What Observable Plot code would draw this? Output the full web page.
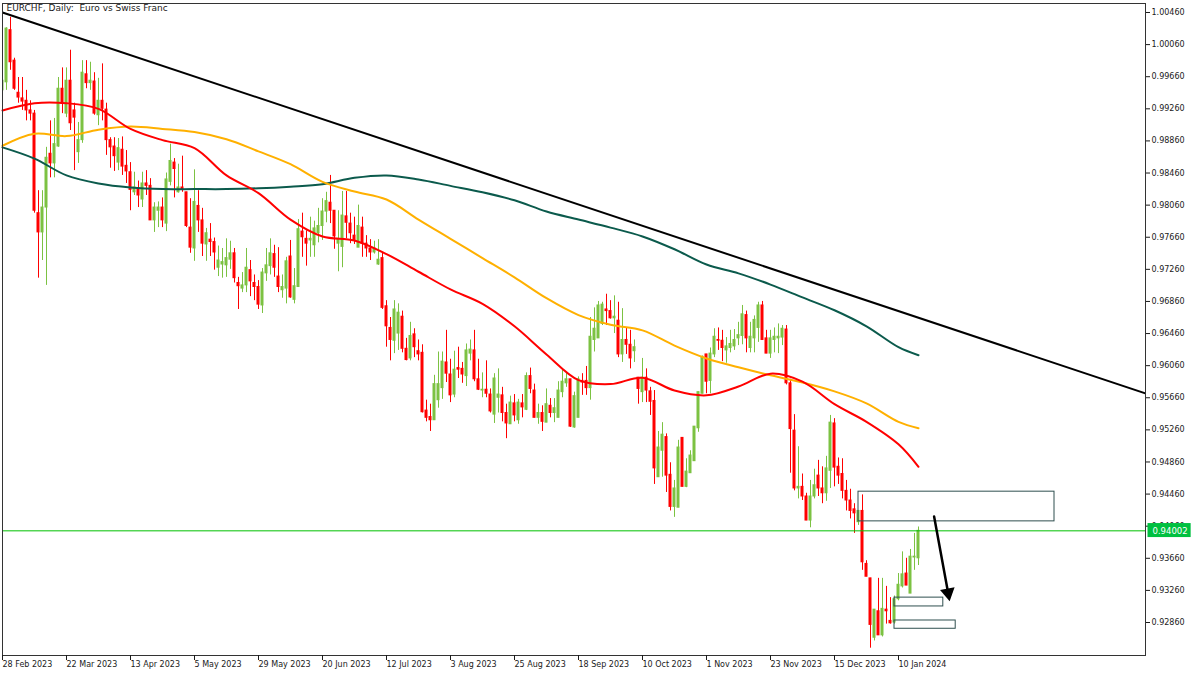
<!DOCTYPE html>
<html><head><meta charset="utf-8">
<script src="https://cdn.jsdelivr.net/npm/d3@7"></script>
<script src="https://cdn.jsdelivr.net/npm/@observablehq/plot@0.6"></script>
<style>html,body{margin:0;padding:0;background:#fff;} svg{display:block}</style>
</head><body><div id="chart"></div>
<script>
// ---- Data (EURCHF daily, bar index 0 = 28 Feb 2023) ----
const openP = [0.9949,0.9959,1.0024,0.9986,0.9946,0.9939,0.9936,0.9924,0.9920,0.9796,
0.9772,0.9803,0.9870,0.9858,0.9879,0.9951,0.9920,0.9961,0.9924,0.9872,
0.9887,0.9969,0.9958,0.9960,0.9918,0.9936,0.9925,0.9887,0.9879,0.9859,
0.9875,0.9855,0.9847,0.9822,0.9827,0.9813,0.9833,0.9830,0.9787,0.9799,
0.9803,0.9783,0.9835,0.9859,0.9822,0.9828,0.9822,0.9778,0.9752,0.9805,
0.9787,0.9757,0.9763,0.9760,0.9728,0.9732,0.9731,0.9738,0.9746,0.9709,
0.9702,0.9706,0.9725,0.9709,0.9704,0.9681,0.9721,0.9730,0.9745,0.9717,
0.9700,0.9702,0.9742,0.9688,0.9704,0.9773,0.9764,0.9762,0.9756,0.9771,
0.9780,0.9798,0.9809,0.9799,0.9758,0.9754,0.9792,0.9783,0.9768,0.9753,
0.9778,0.9758,0.9752,0.9747,0.9732,0.9740,0.9680,0.9653,0.9637,0.9646,
0.9667,0.9627,0.9615,0.9645,0.9624,0.9622,0.9550,0.9542,0.9538,0.9563,
0.9578,0.9610,0.9595,0.9570,0.9603,0.9602,0.9593,0.9621,0.9625,0.9589,
0.9575,0.9576,0.9570,0.9545,0.9566,0.9569,0.9547,0.9533,0.9559,0.9538,
0.9559,0.9551,0.9593,0.9575,0.9541,0.9547,0.9535,0.9556,0.9547,0.9541,
0.9573,0.9584,0.9589,0.9529,0.9541,0.9587,0.9587,0.9578,0.9638,0.9640,
0.9658,0.9676,0.9674,0.9665,0.9662,0.9620,0.9638,0.9632,0.9624,0.9591,
0.9573,0.9591,0.9574,0.9562,0.9467,0.9500,0.9517,0.9470,0.9430,0.9429,
0.9516,0.9455,0.9472,0.9487,0.9528,0.9571,0.9620,0.9587,0.9620,0.9638,
0.9637,0.9625,0.9628,0.9630,0.9640,0.9643,0.9669,0.9628,0.9640,0.9653,
0.9681,0.9640,0.9621,0.9638,0.9640,0.9641,0.9651,0.9584,0.9525,0.9453,
0.9455,0.9443,0.9413,0.9443,0.9469,0.9453,0.9447,0.9475,0.9534,0.9480,
0.9471,0.9450,0.9438,0.9427,0.9411,0.9425,0.9359,0.9341,0.9267,0.9300,
0.9270,0.9302,0.9288,0.9286,0.9315,0.9331,0.9347,0.9322,0.9367,0.9366];
const closeP = [0.9961,1.0026,0.9984,0.9951,0.9940,0.9935,0.9924,0.9920,0.9799,0.9772,
0.9803,0.9865,0.9858,0.9882,0.9951,0.9933,0.9961,0.9908,0.9915,0.9887,
0.9971,0.9958,0.9961,0.9920,0.9936,0.9926,0.9887,0.9878,0.9867,0.9877,
0.9854,0.9848,0.9825,0.9828,0.9818,0.9833,0.9830,0.9787,0.9803,0.9803,
0.9787,0.9838,0.9861,0.9851,0.9828,0.9825,0.9780,0.9753,0.9810,0.9787,
0.9758,0.9771,0.9760,0.9747,0.9737,0.9735,0.9740,0.9746,0.9715,0.9705,
0.9706,0.9728,0.9711,0.9704,0.9682,0.9722,0.9731,0.9746,0.9728,0.9704,
0.9704,0.9736,0.9691,0.9705,0.9776,0.9766,0.9758,0.9764,0.9777,0.9780,
0.9798,0.9811,0.9799,0.9767,0.9764,0.9793,0.9784,0.9771,0.9762,0.9780,
0.9758,0.9752,0.9747,0.9752,0.9738,0.9678,0.9655,0.9638,0.9676,0.9672,
0.9627,0.9613,0.9643,0.9629,0.9620,0.9548,0.9541,0.9538,0.9583,0.9583,
0.9611,0.9596,0.9569,0.9601,0.9601,0.9595,0.9625,0.9626,0.9589,0.9576,
0.9576,0.9571,0.9549,0.9590,0.9570,0.9547,0.9534,0.9560,0.9544,0.9560,
0.9554,0.9593,0.9577,0.9541,0.9547,0.9536,0.9558,0.9547,0.9553,0.9575,
0.9586,0.9589,0.9530,0.9568,0.9589,0.9585,0.9578,0.9642,0.9652,0.9681,
0.9682,0.9674,0.9665,0.9667,0.9620,0.9638,0.9632,0.9615,0.9629,0.9577,
0.9591,0.9575,0.9561,0.9478,0.9504,0.9520,0.9469,0.9430,0.9453,0.9504,
0.9455,0.9474,0.9494,0.9530,0.9573,0.9617,0.9586,0.9621,0.9642,0.9637,
0.9628,0.9630,0.9633,0.9638,0.9644,0.9670,0.9640,0.9642,0.9663,0.9681,
0.9638,0.9621,0.9640,0.9642,0.9642,0.9652,0.9584,0.9527,0.9453,0.9455,
0.9443,0.9413,0.9443,0.9457,0.9453,0.9447,0.9478,0.9535,0.9479,0.9469,
0.9450,0.9438,0.9425,0.9422,0.9425,0.9361,0.9343,0.9283,0.9302,0.9270,
0.9303,0.9300,0.9285,0.9315,0.9333,0.9346,0.9332,0.9368,0.9368,0.94002];
const highP = [0.9968,1.0027,1.0040,0.9989,0.9965,0.9965,0.9949,0.9936,0.9924,0.9824,
0.9824,0.9878,0.9911,0.9914,0.9965,0.9977,0.9977,0.9999,0.9933,0.9909,
0.9986,0.9986,0.9984,0.9971,0.9964,0.9982,0.9933,0.9890,0.9890,0.9889,
0.9891,0.9874,0.9859,0.9847,0.9836,0.9847,0.9849,0.9839,0.9809,0.9810,
0.9815,0.9846,0.9882,0.9864,0.9857,0.9867,0.9822,0.9814,0.9850,0.9824,
0.9802,0.9777,0.9783,0.9765,0.9755,0.9752,0.9764,0.9761,0.9752,0.9716,
0.9722,0.9752,0.9737,0.9719,0.9712,0.9727,0.9752,0.9764,0.9756,0.9753,
0.9719,0.9741,0.9762,0.9727,0.9788,0.9796,0.9774,0.9791,0.9786,0.9802,
0.9814,0.9822,0.9843,0.9799,0.9799,0.9823,0.9823,0.9796,0.9791,0.9806,
0.9791,0.9768,0.9763,0.9761,0.9763,0.9746,0.9687,0.9666,0.9687,0.9683,
0.9674,0.9640,0.9660,0.9652,0.9638,0.9632,0.9563,0.9558,0.9594,0.9623,
0.9623,0.9650,0.9614,0.9624,0.9629,0.9610,0.9633,0.9638,0.9650,0.9614,
0.9597,0.9612,0.9577,0.9596,0.9602,0.9579,0.9558,0.9568,0.9570,0.9564,
0.9570,0.9597,0.9603,0.9583,0.9558,0.9556,0.9577,0.9565,0.9565,0.9586,
0.9600,0.9597,0.9589,0.9573,0.9592,0.9596,0.9605,0.9666,0.9678,0.9686,
0.9685,0.9695,0.9687,0.9693,0.9685,0.9677,0.9653,0.9650,0.9638,0.9591,
0.9615,0.9602,0.9579,0.9575,0.9524,0.9535,0.9521,0.9485,0.9463,0.9513,
0.9516,0.9490,0.9500,0.9530,0.9573,0.9618,0.9620,0.9628,0.9652,0.9653,
0.9650,0.9641,0.9650,0.9651,0.9660,0.9681,0.9674,0.9660,0.9668,0.9685,
0.9686,0.9650,0.9650,0.9653,0.9658,0.9656,0.9656,0.9589,0.9545,0.9505,
0.9471,0.9447,0.9463,0.9477,0.9488,0.9480,0.9493,0.9544,0.9540,0.9491,
0.9490,0.9463,0.9452,0.9434,0.9425,0.9445,0.9363,0.9341,0.9302,0.9341,
0.9341,0.9331,0.9317,0.9319,0.9347,0.9374,0.9366,0.9377,0.9397,0.9405];
const lowP = [0.9943,0.9949,0.9974,0.9949,0.9933,0.9924,0.9911,0.9911,0.9796,0.9715,
0.9737,0.9706,0.9840,0.9840,0.9878,0.9920,0.9915,0.9899,0.9849,0.9858,
0.9883,0.9951,0.9949,0.9918,0.9905,0.9911,0.9868,0.9852,0.9848,0.9849,
0.9843,0.9833,0.9799,0.9818,0.9803,0.9803,0.9818,0.9787,0.9772,0.9778,
0.9778,0.9773,0.9830,0.9815,0.9821,0.9822,0.9778,0.9746,0.9736,0.9772,
0.9742,0.9736,0.9742,0.9725,0.9717,0.9715,0.9716,0.9726,0.9709,0.9676,
0.9697,0.9697,0.9692,0.9687,0.9676,0.9671,0.9711,0.9719,0.9716,0.9697,
0.9690,0.9683,0.9690,0.9683,0.9704,0.9741,0.9730,0.9741,0.9741,0.9759,
0.9762,0.9784,0.9783,0.9751,0.9723,0.9728,0.9764,0.9758,0.9757,0.9753,
0.9741,0.9741,0.9737,0.9745,0.9731,0.9676,0.9629,0.9612,0.9621,0.9625,
0.9622,0.9612,0.9612,0.9616,0.9612,0.9547,0.9536,0.9524,0.9538,0.9553,
0.9564,0.9585,0.9560,0.9566,0.9590,0.9584,0.9580,0.9612,0.9586,0.9575,
0.9566,0.9566,0.9547,0.9534,0.9547,0.9536,0.9515,0.9533,0.9536,0.9533,
0.9541,0.9550,0.9571,0.9541,0.9533,0.9524,0.9535,0.9541,0.9535,0.9541,
0.9566,0.9579,0.9529,0.9528,0.9541,0.9569,0.9569,0.9563,0.9623,0.9640,
0.9656,0.9656,0.9664,0.9646,0.9616,0.9610,0.9620,0.9602,0.9610,0.9558,
0.9560,0.9560,0.9544,0.9458,0.9467,0.9467,0.9448,0.9425,0.9417,0.9429,
0.9455,0.9454,0.9472,0.9487,0.9523,0.9571,0.9571,0.9571,0.9616,0.9625,
0.9611,0.9609,0.9622,0.9625,0.9631,0.9632,0.9622,0.9622,0.9622,0.9635,
0.9638,0.9621,0.9615,0.9622,0.9621,0.9631,0.9582,0.9472,0.9450,0.9440,
0.9438,0.9413,0.9404,0.9440,0.9443,0.9434,0.9437,0.9453,0.9455,0.9458,
0.9440,0.9425,0.9415,0.9397,0.9407,0.9351,0.9343,0.9254,0.9263,0.9270,
0.9268,0.9284,0.9284,0.9284,0.9313,0.9329,0.9332,0.9322,0.9351,0.9357];

// moving averages, sampled every 8 bars (last = final bar)
const maBars   = [0,8,16,24,32,40,48,56,64,72,80,88,96,104,112,120,128,136,144,152,160,168,176,184,192,200,208,216,224,229];
const maFast   = [0.9924,0.9933,0.9933,0.9926,0.9901,0.9887,0.9877,0.9843,0.9821,0.9788,0.9767,0.9762,0.9745,0.9723,0.9701,0.9683,0.9655,0.9620,0.9588,0.9583,0.9591,0.9575,0.9569,0.9580,0.9596,0.9586,0.9558,0.9536,0.9508,0.9480];
const maMid    = [0.9880,0.9895,0.9892,0.9900,0.9904,0.9901,0.9897,0.9888,0.9873,0.9857,0.9835,0.9823,0.9813,0.9788,0.9764,0.9740,0.9716,0.9690,0.9669,0.9657,0.9650,0.9631,0.9615,0.9604,0.9594,0.9585,0.9574,0.9559,0.9536,0.9528];
const maSlow   = [0.9878,0.9864,0.9843,0.9833,0.9828,0.9826,0.9826,0.9826,0.9827,0.9829,0.9832,0.9840,0.9843,0.9838,0.9830,0.9822,0.9812,0.9798,0.9788,0.9778,0.9767,0.9751,0.9732,0.9721,0.9707,0.9691,0.9675,0.9655,0.9629,0.9619];

// drawn objects
const trendBars = [0, 286];
const trendPrices = [1.0046, 0.9571];
const lastPrice = 0.94002;
const zoneBars = [[214, 263], [223, 235.2], [223, 238.3]];
const zonePrices = [[0.9449, 0.9412], [0.9317, 0.9306], [0.92885, 0.92782]];
const arrowBars = [232.9, 236.4];
const arrowPrices = [0.9418, 0.9323];

// axes
const xTickBars = [0,16,32,48,64,80,96,112,128,144,160,176,192,208,224];
const xTickLabels = ["28 Feb 2023","22 Mar 2023","13 Apr 2023","5 May 2023","29 May 2023","20 Jun 2023","12 Jul 2023","3 Aug 2023","25 Aug 2023","18 Sep 2023","10 Oct 2023","1 Nov 2023","23 Nov 2023","15 Dec 2023","10 Jan 2024"];
const yTicks = [1.0046,1.0006,0.9966,0.9926,0.9886,0.9846,0.9806,0.9766,0.9726,0.9686,0.9646,0.9606,0.9566,0.9526,0.9486,0.9446,0.9406,0.9366,0.9326,0.9286];
const title = "EURCHF, Daily:\u00a0 Euro vs Swiss Franc";

// ---- build ----
const GREEN = "#7cc242", RED = "#ff0000";
const candles = closeP.map((c, i) => ({i, o: openP[i], h: highP[i], l: lowP[i], c}));
const up = candles.filter(d => d.c >= d.o);
const dn = candles.filter(d => d.c < d.o);
const mkMA = arr => maBars.map((b, j) => ({b, v: arr[j]}));
const trend = trendBars.map((b, j) => ({b, v: trendPrices[j]}));
const zones = zoneBars.map((b, j) => ({b1: b[0], b2: b[1], p1: zonePrices[j][0], p2: zonePrices[j][1]}));
const arrowPts = arrowBars.map((b, j) => ({b, v: arrowPrices[j]}));

const FONT = "DejaVu Sans";
const chart = Plot.plot({
  width: 1200, height: 675,
  marginLeft: 2, marginRight: 55, marginTop: 3, marginBottom: 20,
  style: {fontFamily: FONT, fontSize: "8px", color: "#1a1a1a", background: "#fff"},
  x: {type: "linear", domain: [0, 285.75]},
  y: {type: "linear", domain: [0.924489, 1.005721]},
  marks: [
    Plot.ruleX(up, {x: "i", y1: "l", y2: "h", stroke: GREEN, strokeWidth: 1, clip: true}),
    Plot.ruleX(dn, {x: "i", y1: "l", y2: "h", stroke: RED, strokeWidth: 1, clip: true}),
    Plot.rect(up, {x1: d => d.i - 0.375, x2: d => d.i + 0.375, y1: "o", y2: "c", fill: GREEN, insetTop: -0.5, insetBottom: -0.5, clip: true}),
    Plot.rect(dn, {x1: d => d.i - 0.375, x2: d => d.i + 0.375, y1: "o", y2: "c", fill: RED, insetTop: -0.5, insetBottom: -0.5, clip: true}),
    Plot.line(mkMA(maSlow), {x: "b", y: "v", stroke: "#0b5a4c", strokeWidth: 2, curve: "catmull-rom"}),
    Plot.line(mkMA(maMid), {x: "b", y: "v", stroke: "#ffb000", strokeWidth: 2, curve: "catmull-rom"}),
    Plot.line(mkMA(maFast), {x: "b", y: "v", stroke: "#ff0000", strokeWidth: 2, curve: "catmull-rom"}),
    Plot.line(trend, {x: "b", y: "v", stroke: "#000", strokeWidth: 2, clip: true}),
    Plot.ruleY([lastPrice], {y: d => d, stroke: "#00c000", strokeWidth: 1}),
    Plot.rect(zones, {x1: "b1", x2: "b2", y1: "p1", y2: "p2", fill: "none", stroke: "#2f4f4f", strokeWidth: 1}),
    Plot.line(arrowPts, {x: "b", y: "v", stroke: "#000", strokeWidth: 2.5}),
    Plot.dot([arrowPts[1]], {x: "b", y: "v", symbol: "triangle", r: 5.5, rotate: 169.5, fill: "#000", stroke: "none"}),
    Plot.frame({stroke: "#333"}),
    Plot.axisY({anchor: "right", ticks: yTicks, tickFormat: d => d.toFixed(5), tickSize: 4, tickPadding: 2, label: null, fontSize: 8}),
    Plot.axisX({ticks: xTickBars, tickFormat: d => xTickLabels[xTickBars.indexOf(d)], textAnchor: "start", tickSize: 5, tickPadding: 1, label: null, fontSize: 8}),
    Plot.text([lastPrice], {y: d => d, frameAnchor: "right", text: d => d.toFixed(5), textAnchor: "start", dx: 7, fill: "#fff", fontSize: 8.5}),
    Plot.text([title], {frameAnchor: "top-left", dx: 4, dy: 1, textAnchor: "start", lineAnchor: "top", fill: "#1a1a1a", fontSize: 9})
  ]
});
document.getElementById("chart").appendChild(chart);
// green background box behind the current price label
const priceTxt = lastPrice.toFixed(5);
d3.select(chart).selectAll("text").filter(function() { return this.textContent === priceTxt; }).each(function() {
  const bb = this.getBBox();
  const r = document.createElementNS("http://www.w3.org/2000/svg", "rect");
  r.setAttribute("x", bb.x - 5); r.setAttribute("y", bb.y - 2.5);
  r.setAttribute("width", bb.width + 8); r.setAttribute("height", bb.height + 4);
  r.setAttribute("fill", "#00c040");
  const tf = this.getAttribute("transform");
  if (tf) r.setAttribute("transform", tf);
  this.parentNode.insertBefore(r, this);
});
</script></body></html>
